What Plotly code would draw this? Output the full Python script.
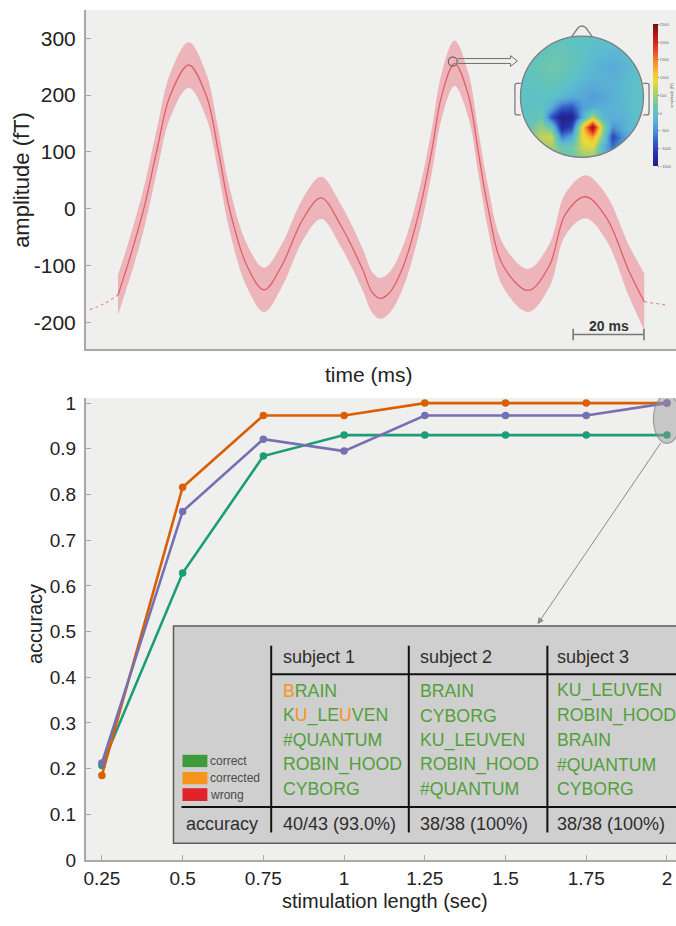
import plotly.graph_objects as go

W, H = 676, 926
FONT = "Liberation Sans, Arial, Helvetica, sans-serif"
BG = "#efefee"

# ---------------- top panel: evoked response ----------------
time_ms = [9.1, 12.2, 16.4, 20.0, 23.9, 29.1, 34.0, 37.5, 40.6, 45.5, 50.4, 55.4, 61.4, 66.5,
           72.1, 78.3, 80.8, 83.1, 85.8, 89.8, 94.4, 97.7, 100.6, 104.2, 108.1, 110.9, 113.7,
           117.9, 125.0, 131.0, 135.5, 141.2, 147.0, 153.5, 157.8]
mean_ft = [-152, -92, 0, 100, 200, 253, 200, 100, 0, -100, -143, -100, -18, 19,
           -30, -108, -146, -158, -148, -100, 0, 100, 200, 256, 200, 100, 0,
           -100, -144, -100, -10, 21, -15, -110, -164]
sem_ft = [35, 36, 37, 38, 39, 40, 39, 38, 38, 38, 39, 38, 37, 37,
          37, 37, 36, 36, 36, 37, 38, 39, 40, 40, 39, 38, 38,
          38, 38, 38, 37, 38, 40, 45, 50]
pre_time_ms = [1.1, 5.0, 9.1]
pre_ft = [-178, -168, -152]
post_time_ms = [157.8, 164.5]
post_ft = [-164, -170]
amp_ticks = [-200, -100, 0, 100, 200, 300]
amp_tick_labels = ["-200", "-100", "0", "100", "200", "300"]
scale_bar_start_ms = 137.7
scale_bar_len_ms = 20
scale_bar_label = "20 ms"

# ---------------- topomap (inset) ----------------
topo_coords = [-1.0, -0.833, -0.667, -0.5, -0.333, -0.167, 0.0, 0.167, 0.333, 0.5, 0.667, 0.833, 1.0]
topo_z_top_to_bottom = [
    [0, 0, 0, 0, 0, 0, 0, 0, 0, 0, 0, 0, 0],
    [0, 0, 0, 50, 80, 50, 0, -50, -100, -100, -50, 0, 0],
    [0, 0, 80, 150, 150, 80, 0, -100, -150, -200, -100, -50, 0],
    [0, 50, 150, 200, 200, 80, -50, -150, -250, -300, -200, -50, 0],
    [0, 50, 100, 150, 100, 0, -100, -200, -200, -250, -150, -50, 0],
    [0, 0, 50, 50, 0, -100, -250, -300, -250, -200, -100, -50, 0],
    [0, 0, 0, 0, -150, -300, -300, -400, -350, -250, -150, -50, 0],
    [0, 0, 50, -300, -800, -900, -400, -300, -250, -200, -150, -50, 0],
    [0, 50, 150, -900, -1450, -1400, -300, 600, -150, -250, -200, -50, 0],
    [0, 150, 450, 100, -1300, -1000, 1000, 2400, 500, -500, -250, -50, 0],
    [0, 350, 650, 750, -600, -300, 900, 1300, 300, -1000, -450, -100, 0],
    [0, 250, 450, 500, 200, 200, 700, 800, -150, -700, -350, -50, 0],
    [0, 150, 250, 250, 150, 150, 400, 450, -50, -300, -150, 0, 0],
]
topo_cbar_ticks = [-1500, -1000, -500, 0, 500, 1000, 1500, 2000, 2500]

# ---------------- bottom panel: accuracy ----------------
stim_len = [0.25, 0.5, 0.75, 1, 1.25, 1.5, 1.75, 2]
stim_tick_labels = ["0.25", "0.5", "0.75", "1", "1.25", "1.5", "1.75", "2"]
acc_green = [0.207, 0.628, 0.884, 0.93, 0.93, 0.93, 0.93, 0.93]
acc_orange = [0.185, 0.816, 0.973, 0.973, 1.0, 1.0, 1.0, 1.0]
acc_purple = [0.212, 0.763, 0.921, 0.895, 0.973, 0.973, 0.973, 1.0]
acc_ticks = [0, 0.1, 0.2, 0.3, 0.4, 0.5, 0.6, 0.7, 0.8, 0.9, 1]
acc_tick_labels = ["0", "0.1", "0.2", "0.3", "0.4", "0.5", "0.6", "0.7", "0.8", "0.9", "1"]

# ---------------- table ----------------
table_headers = ["subject 1", "subject 2", "subject 3"]
table_words = [
    ["BRAIN", "KU_LEUVEN", "#QUANTUM", "ROBIN_HOOD", "CYBORG"],
    ["BRAIN", "CYBORG", "KU_LEUVEN", "ROBIN_HOOD", "#QUANTUM"],
    ["KU_LEUVEN", "ROBIN_HOOD", "BRAIN", "#QUANTUM", "CYBORG"],
]
corrected_letters = {(0, 0): [0], (0, 1): [1, 5]}
table_accuracy = ["40/43 (93.0%)", "38/38 (100%)", "38/38 (100%)"]
legend_labels = ["correct", "corrected", "wrong"]
legend_colors = ["#3f9a3c", "#f7941d", "#e2232a"]
WORD_GREEN = "#52a03a"
WORD_ORANGE = "#f7941d"


def px(x):
    return x / W


def py(y):
    return 1 - y / H


def ppath(points, close=False):
    s = "M " + " L ".join(f"{px(a):.5f},{py(b):.5f}" for a, b in points)
    return s + (" Z" if close else "")


fig = go.Figure()

# ---- top panel traces ----
upper = [m + s for m, s in zip(mean_ft, sem_ft)]
lower = [m - s for m, s in zip(mean_ft, sem_ft)]
fig.add_trace(go.Scatter(x=time_ms, y=upper, mode="lines",
                         line=dict(width=0, shape="spline", color="rgba(0,0,0,0)"),
                         hoverinfo="skip", showlegend=False))
fig.add_trace(go.Scatter(x=time_ms, y=lower, mode="lines", fill="tonexty",
                         fillcolor="rgba(235,110,120,0.45)",
                         line=dict(width=0, shape="spline", color="rgba(0,0,0,0)"),
                         hoverinfo="skip", showlegend=False))
for xs, ys in [(pre_time_ms, pre_ft), (post_time_ms, post_ft)]:
    fig.add_trace(go.Scatter(x=xs, y=ys, mode="lines",
                             line=dict(width=1.2, dash="dot", color="#ee8a92", shape="spline"),
                             hoverinfo="skip", showlegend=False))
fig.add_trace(go.Scatter(x=time_ms, y=mean_ft, mode="lines",
                         line=dict(width=1.3, shape="spline", color="#df5f6b"),
                         showlegend=False))
i_peak = mean_ft.index(max(mean_ft))
fig.add_trace(go.Scatter(x=[time_ms[i_peak] - 0.5], y=[mean_ft[i_peak] + 3], mode="markers",
                         marker=dict(size=9, color="rgba(0,0,0,0)",
                                     line=dict(color="#666", width=1.2)),
                         showlegend=False, hoverinfo="skip"))

# ---- topomap inset ----
topo_colorscale = [
    [0.0, "#202080"], [0.08, "#2830a8"], [0.16, "#3058c0"], [0.24, "#4a8ed4"],
    [0.30, "#58aad8"], [0.345, "#5cbad0"], [0.375, "#5ec2c4"], [0.42, "#6cc6ae"],
    [0.47, "#90ca8c"], [0.54, "#c4d258"], [0.60, "#eadc36"], [0.65, "#f4c830"],
    [0.72, "#f3962e"], [0.80, "#e8502a"], [0.88, "#d21f1f"], [1.0, "#7a0c0c"],
]
fig.add_trace(go.Heatmap(
    x=topo_coords, y=topo_coords, z=topo_z_top_to_bottom[::-1],
    zmin=-1500, zmax=2500, zsmooth="best", colorscale=topo_colorscale,
    xaxis="x3", yaxis="y3", hoverinfo="skip",
    colorbar=dict(x=px(652.7), xanchor="left", xpad=0, y=py(92), yanchor="middle", ypad=0,
                  len=142, lenmode="pixels", thickness=4.5, thicknessmode="pixels",
                  outlinewidth=0, tickvals=topo_cbar_ticks, ticks="outside", ticklen=1.5,
                  tickcolor="#777", tickfont=dict(size=4, color="#666", family=FONT),
                  title=dict(text="amplitude (fT)", side="right",
                             font=dict(size=4, color="#666", family=FONT))),
))

# ---- bottom panel traces ----
for ys, col in [(acc_green, "#1b9e77"), (acc_orange, "#d95f02"), (acc_purple, "#7570b3")]:
    fig.add_trace(go.Scatter(x=stim_len, y=ys, mode="lines+markers",
                             line=dict(color=col, width=2.6),
                             marker=dict(color=col, size=7.5),
                             xaxis="x2", yaxis="y2", showlegend=False))

# ---------------- layout ----------------
axis_line = dict(showline=True, linecolor="#a8a8a8", linewidth=1.5, showgrid=False,
                 zeroline=False, mirror=False)
top_y = [py(350), py(5)]
bot_y = [py(870), py(400)]
in_x0, in_x1, in_y0, in_y1 = 506, 660, 15, 170
cx, cy, r = 581.7, 93.3, 61.7

fig.update_layout(
    width=W, height=H, margin=dict(l=0, r=0, t=0, b=0),
    paper_bgcolor="white", plot_bgcolor="rgba(0,0,0,0)",
    font=dict(family=FONT, color="#222"),
    showlegend=False,
    xaxis=dict(domain=[px(84), 1], range=[0, (676 - 84) / 3.55], anchor="y",
               showticklabels=False, ticks="", **axis_line),
    yaxis=dict(domain=top_y, range=[-247, 350], anchor="x", tickvals=amp_ticks,
               ticktext=amp_tick_labels, ticks="inside", ticklen=5, tickcolor="#a8a8a8",
               tickwidth=1.3, tickfont=dict(size=21, color="#222"), ticklabelstandoff=4,
               **axis_line),
    xaxis2=dict(domain=[px(84), 1], range=[0.2, 2.028], anchor="y2", tickvals=stim_len,
                ticktext=stim_tick_labels, ticks="inside", ticklen=5, tickcolor="#a8a8a8",
                tickwidth=1.3, tickfont=dict(size=19, color="#222"), **axis_line),
    yaxis2=dict(domain=bot_y, range=[0, 1.011], anchor="x2", tickvals=acc_ticks,
                ticktext=acc_tick_labels, ticks="inside", ticklen=5, tickcolor="#a8a8a8",
                tickwidth=1.3, tickfont=dict(size=19, color="#222"), ticklabelstandoff=4,
                **axis_line),
    xaxis3=dict(domain=[px(in_x0), px(in_x1)],
                range=[(in_x0 - cx) / r, (in_x1 - cx) / r], anchor="y3", visible=False),
    yaxis3=dict(domain=[py(in_y1), py(in_y0)],
                range=[(cy - in_y1) / r, (cy - in_y0) / r], anchor="x3", visible=False),
)

shapes = []
# panel backgrounds
shapes.append(dict(type="rect", xref="paper", yref="paper", x0=px(84), x1=1,
                   y0=top_y[0], y1=top_y[1], fillcolor=BG, line=dict(width=0), layer="below"))
shapes.append(dict(type="rect", xref="paper", yref="paper", x0=px(84), x1=1,
                   y0=bot_y[0], y1=bot_y[1], fillcolor=BG, line=dict(width=0), layer="below"))

# topomap mask (square minus circle) + head outline
k = 0.5523
mask = ("M -1.1,-1.1 L -1.1,1.1 L 1.1,1.1 L 1.1,-1.1 Z "
        f"M 1,0 C 1,{k} {k},1 0,1 C {-k},1 -1,{k} -1,0 C -1,{-k} {-k},-1 0,-1 C {k},-1 1,{-k} 1,0 Z")
shapes.append(dict(type="path", xref="x3", yref="y3", path=mask, fillcolor=BG,
                   line=dict(width=0), layer="above"))
head_line = dict(color="#7d7d7d", width=1.3)
shapes.append(dict(type="circle", xref="x3", yref="y3", x0=-1, x1=1, y0=-1, y1=1,
                   line=head_line, layer="above"))
shapes.append(dict(type="path", xref="x3", yref="y3",
                   path="M -0.17,0.985 L -0.06,1.14 Q 0,1.19 0.06,1.14 L 0.17,0.985",
                   line=head_line, layer="above"))
shapes.append(dict(type="path", xref="x3", yref="y3",
                   path="M -0.995,0.22 L -1.06,0.22 Q -1.09,0.22 -1.09,0.18 L -1.09,-0.26 "
                        "Q -1.09,-0.3 -1.06,-0.3 L -0.995,-0.3",
                   line=head_line, layer="above"))
shapes.append(dict(type="path", xref="x3", yref="y3",
                   path="M 0.995,0.22 L 1.06,0.22 Q 1.09,0.22 1.09,0.18 L 1.09,-0.26 "
                        "Q 1.09,-0.3 1.06,-0.3 L 0.995,-0.3",
                   line=head_line, layer="above"))
# hollow arrow from peak to topomap
shapes.append(dict(type="path", xref="paper", yref="paper",
                   path=ppath([(457, 54.5), (510, 54.5), (510, 51.5), (517, 57),
                               (510, 62.5), (510, 59.5), (457, 59.5)]),
                   line=dict(color="#6f6f6f", width=1), layer="above"))
# scale bar
sb_y = -221.6
shapes.append(dict(type="line", xref="x", yref="y", x0=scale_bar_start_ms,
                   x1=scale_bar_start_ms + scale_bar_len_ms, y0=sb_y, y1=sb_y,
                   line=dict(color="#777", width=1.6)))
for xx in [scale_bar_start_ms, scale_bar_start_ms + scale_bar_len_ms]:
    shapes.append(dict(type="line", xref="x", yref="y", x0=xx, x1=xx, y0=sb_y + 10,
                       y1=sb_y - 10, line=dict(color="#777", width=1.6)))

# ellipse highlight at 2 s
shapes.append(dict(type="circle", xref="x2", yref="y2", x0=1.958, x1=2.042, y0=0.912,
                   y1=1.018, fillcolor="rgba(150,150,150,0.45)",
                   line=dict(color="rgba(140,140,140,0.8)", width=1.2), layer="above"))

# table box
shapes.append(dict(type="rect", xref="paper", yref="paper", x0=px(172), x1=px(700),
                   y0=py(853), y1=py(632), fillcolor="#cfcfcf",
                   line=dict(color="#5c5c5c", width=1.5), layer="above"))
tline = dict(color="#111", width=2)
for xx in [270, 408, 547]:
    shapes.append(dict(type="line", xref="paper", yref="paper", x0=px(xx), x1=px(xx),
                       y0=py(842), y1=py(652), line=tline, layer="above"))
shapes.append(dict(type="line", xref="paper", yref="paper", x0=px(270), x1=px(690),
                   y0=py(681), y1=py(681), line=tline, layer="above"))
shapes.append(dict(type="line", xref="paper", yref="paper", x0=px(180), x1=px(690),
                   y0=py(816), y1=py(816), line=tline, layer="above"))
# legend swatches
for (y0, y1), col in zip([(763, 775.5), (780.5, 793), (797, 810)], legend_colors):
    shapes.append(dict(type="rect", xref="paper", yref="paper", x0=px(181), x1=px(206),
                       y0=py(y1), y1=py(y0), fillcolor=col, line=dict(width=0),
                       layer="above"))

fig.update_layout(shapes=shapes)

ann = []


def text_at(x, y, text, size, color="#222", xanchor="left", angle=0):
    ann.append(dict(xref="paper", yref="paper", x=px(x), y=py(y), text=text,
                    showarrow=False, xanchor=xanchor, yanchor="middle", textangle=angle,
                    font=dict(size=size, color=color, family=FONT)))


# axis titles
text_at(20, 178, "amplitude (fT)", 22, xanchor="center", angle=-90)
text_at(368, 376, "time (ms)", 21, xanchor="center")
text_at(33, 630, "accuracy", 20, xanchor="center", angle=-90)
text_at(384, 912, "stimulation length (sec)", 20, xanchor="center")

# scale bar label
ann.append(dict(xref="x", yref="y", x=scale_bar_start_ms + scale_bar_len_ms / 2, y=-207,
                text=f"<b>{scale_bar_label}</b>", showarrow=False, yanchor="middle",
                font=dict(size=14, color="#333", family=FONT)))

# arrow from ellipse to table
ann.append(dict(xref="x2", yref="y2", axref="x2", ayref="y2", x=1.599, y=0.516,
                ax=1.984, ay=0.916, text="", showarrow=True, arrowhead=2,
                arrowsize=1.3, arrowwidth=1, arrowcolor="#8a8a8a"))

# table contents
col_x = [280, 417, 555]
row_y = [698, 723, 748, 773, 798]
for j, (hdr, words, acc) in enumerate(zip(table_headers, table_words, table_accuracy)):
    text_at(col_x[j], 663, hdr, 18, color="#2e2e2e")
    for i, w in enumerate(words):
        orange_idx = corrected_letters.get((j, i), [])
        html = "".join(
            f'<span style="color:{WORD_ORANGE}">{ch}</span>' if n in orange_idx else ch
            for n, ch in enumerate(w))
        text_at(col_x[j], row_y[i], html, 17.7, color=WORD_GREEN)
    text_at(col_x[j], 833, acc, 18, color="#2e2e2e")
text_at(183, 833, "accuracy", 18, color="#2e2e2e")
for lab, yy in zip(legend_labels, [769, 787, 803.5]):
    text_at(207, yy, lab, 12, color="#4a4a4a")

fig.update_layout(annotations=ann)

fig.write_html("out.html",
               config={"displayModeBar": False},
               post_script="document.body.style.margin='0px';"
                           "document.body.style.overflow='hidden';")
